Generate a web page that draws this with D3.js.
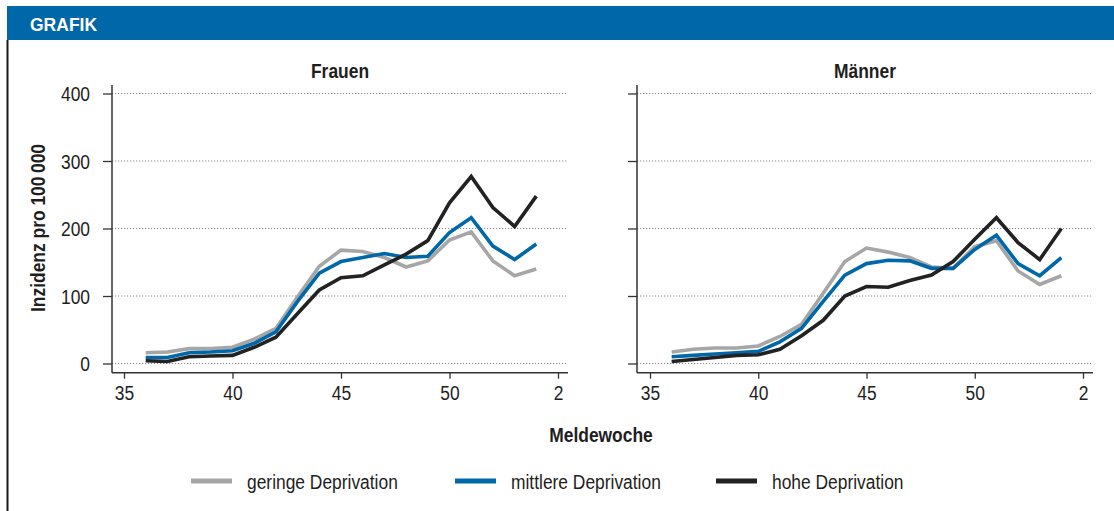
<!DOCTYPE html>
<html>
<head>
<meta charset="utf-8">
<script src="https://cdn.jsdelivr.net/npm/d3@7"></script>
<style>
  html, body { margin: 0; padding: 0; background: #fff; }
  svg { display: block; }
  text { font-family: "Liberation Sans", Arial, sans-serif; }
</style>
</head>
<body>
<svg id="chart" width="1114" height="511"></svg>
<script>
// ---- data ----
const weekLabels = ["35","36","37","38","39","40","41","42","43","44","45","46","47","48","49","50","51","52","53","1","2"];
const dataWeeks = ["36","37","38","39","40","41","42","43","44","45","46","47","48","49","50","51","52","53","1"];
const xTickLabels = ["35","40","45","50","2"];
const yTicks = [0, 100, 200, 300, 400];
const seriesNames = ["geringe Deprivation", "mittlere Deprivation", "hohe Deprivation"];
const seriesColors = ["#a6a6a6", "#0068a8", "#222222"];
const panelTitles = ["Frauen", "Männer"];

const frauenGering   = [16, 17, 22, 22, 24, 36, 52, 99, 144, 168, 166, 157, 143, 152, 183, 195, 152, 130, 140];
const frauenMittel   = [9, 9, 16, 17, 19, 30, 47, 92, 134, 151, 157, 163, 157, 159, 194, 216, 174, 154, 177];
const frauenHoch     = [4, 3, 10, 11, 12, 24, 39, 74, 109, 127, 130, 146, 162, 182, 238, 277, 231, 203, 248];

const maennerGering  = [17, 21, 23, 23, 26, 40, 58, 104, 151, 171, 165, 157, 143, 141, 173, 182, 137, 117, 130];
const maennerMittel  = [10, 12, 14, 16, 18, 32, 52, 92, 131, 148, 153, 152, 141, 141, 169, 190, 148, 130, 157];
const maennerHoch    = [3, 6, 9, 12, 13, 21, 41, 64, 100, 114, 113, 123, 131, 151, 184, 216, 179, 154, 200];

const panels = [
  { title: panelTitles[0], series: [frauenGering, frauenMittel, frauenHoch], left: 112, right: 568, x0: 124, x1: 558, labels: true },
  { title: panelTitles[1], series: [maennerGering, maennerMittel, maennerHoch], left: 637, right: 1093, x0: 650, x1: 1083, labels: false }
];

const svg = d3.select("#chart");

// condensed-looking text: regular face, horizontally compressed
const FS = 20, SX = 0.87;     // regular text
const FSB = 21, SXB = 0.83;   // bold text
function ctext(parent, x, y, str, opts = {}) {
  const bold = !!opts.bold;
  const sx = bold ? SXB : SX;
  const rot = opts.rotate ? ` rotate(${opts.rotate})` : "";
  return parent.append("text")
    .attr("transform", `translate(${x},${y})${rot} scale(${sx},1)`)
    .attr("text-anchor", opts.anchor || "start")
    .attr("font-weight", bold ? "bold" : "normal")
    .attr("font-size", bold ? FSB : FS)
    .attr("fill", textColor)
    .text(str);
}

// header
svg.append("rect").attr("x", 7).attr("y", 6).attr("width", 1107).attr("height", 34).attr("fill", "#0067a9");
svg.append("text").attr("x", 30).attr("y", 31)
  .attr("font-weight", "bold").attr("font-size", 17.5).attr("fill", "#fff").text("GRAFIK");
// left border
svg.append("rect").attr("x", 6.5).attr("y", 40).attr("width", 2).attr("height", 471).attr("fill", "#1a1a1a");

const y = d3.scaleLinear().domain([0, 400]).range([363.5, 93.5]);
const axisY = 372.7;
const topY = 85;
const textColor = "#1e1e1e";

panels.forEach(p => {
  const x = d3.scalePoint().domain(weekLabels).range([p.x0, p.x1]);
  const g = svg.append("g");

  // gridlines
  g.selectAll("line.grid").data(yTicks).join("line")
    .attr("class", "grid")
    .attr("x1", p.left).attr("x2", p.right)
    .attr("y1", d => y(d)).attr("y2", d => y(d))
    .attr("stroke", "#8a8a8a").attr("stroke-width", 1)
    .attr("stroke-dasharray", "1.2,1.8");

  // y axis
  const yAxis = d3.axisLeft(y).tickValues(yTicks).tickSize(9).tickPadding(13)
    .tickFormat(p.labels ? d3.format("d") : () => "");
  const ya = g.append("g").attr("transform", `translate(${p.left},0)`).call(yAxis);
  ya.select(".domain").remove();
  ya.selectAll(".tick line").attr("stroke", "#333").attr("stroke-width", 1.3);
  ya.selectAll(".tick text")
    .attr("font-size", FS).attr("fill", textColor).attr("dy", "0.36em")
    .attr("x", -22 / SX).attr("transform", `scale(${SX},1)`);
  g.append("line").attr("x1", p.left).attr("x2", p.left).attr("y1", topY).attr("y2", axisY)
    .attr("stroke", "#333").attr("stroke-width", 1.5);

  // x axis
  const xAxis = d3.axisBottom(x).tickValues(xTickLabels).tickSize(6).tickPadding(7);
  const xa = g.append("g").attr("transform", `translate(0,${axisY})`).call(xAxis);
  xa.select(".domain").remove();
  xa.selectAll(".tick line").attr("stroke", "#333").attr("stroke-width", 1.3);
  xa.selectAll(".tick text").attr("font-size", FS).attr("fill", textColor)
    .attr("transform", `scale(${SX},1)`);
  g.append("line").attr("x1", p.left).attr("x2", p.right).attr("y1", axisY).attr("y2", axisY)
    .attr("stroke", "#333").attr("stroke-width", 1.5);

  // title
  ctext(g, (p.left + p.right) / 2, 78, p.title, { bold: true, anchor: "middle" });

  // lines
  const line = d3.line().x((d, i) => x(dataWeeks[i])).y(d => y(d));
  p.series.forEach((s, si) => {
    g.append("path").datum(s).attr("d", line)
      .attr("fill", "none").attr("stroke", seriesColors[si]).attr("stroke-width", 3.6)
      .attr("stroke-linejoin", "miter").attr("stroke-linecap", "butt");
  });
});

// y axis title
ctext(svg, 45, 228, "Inzidenz pro 100\u2009000", { bold: true, anchor: "middle", rotate: -90 });

// x axis title
ctext(svg, 601, 442, "Meldewoche", { bold: true, anchor: "middle" });

// legend
const legendX = [191, 455, 716];
const leg = svg.append("g");
seriesNames.forEach((name, i) => {
  leg.append("line").attr("x1", legendX[i]).attr("x2", legendX[i] + 41)
    .attr("y1", 481).attr("y2", 481).attr("stroke", seriesColors[i]).attr("stroke-width", 5);
  ctext(leg, legendX[i] + 56, 489, name);
});
</script>
</body>
</html>
